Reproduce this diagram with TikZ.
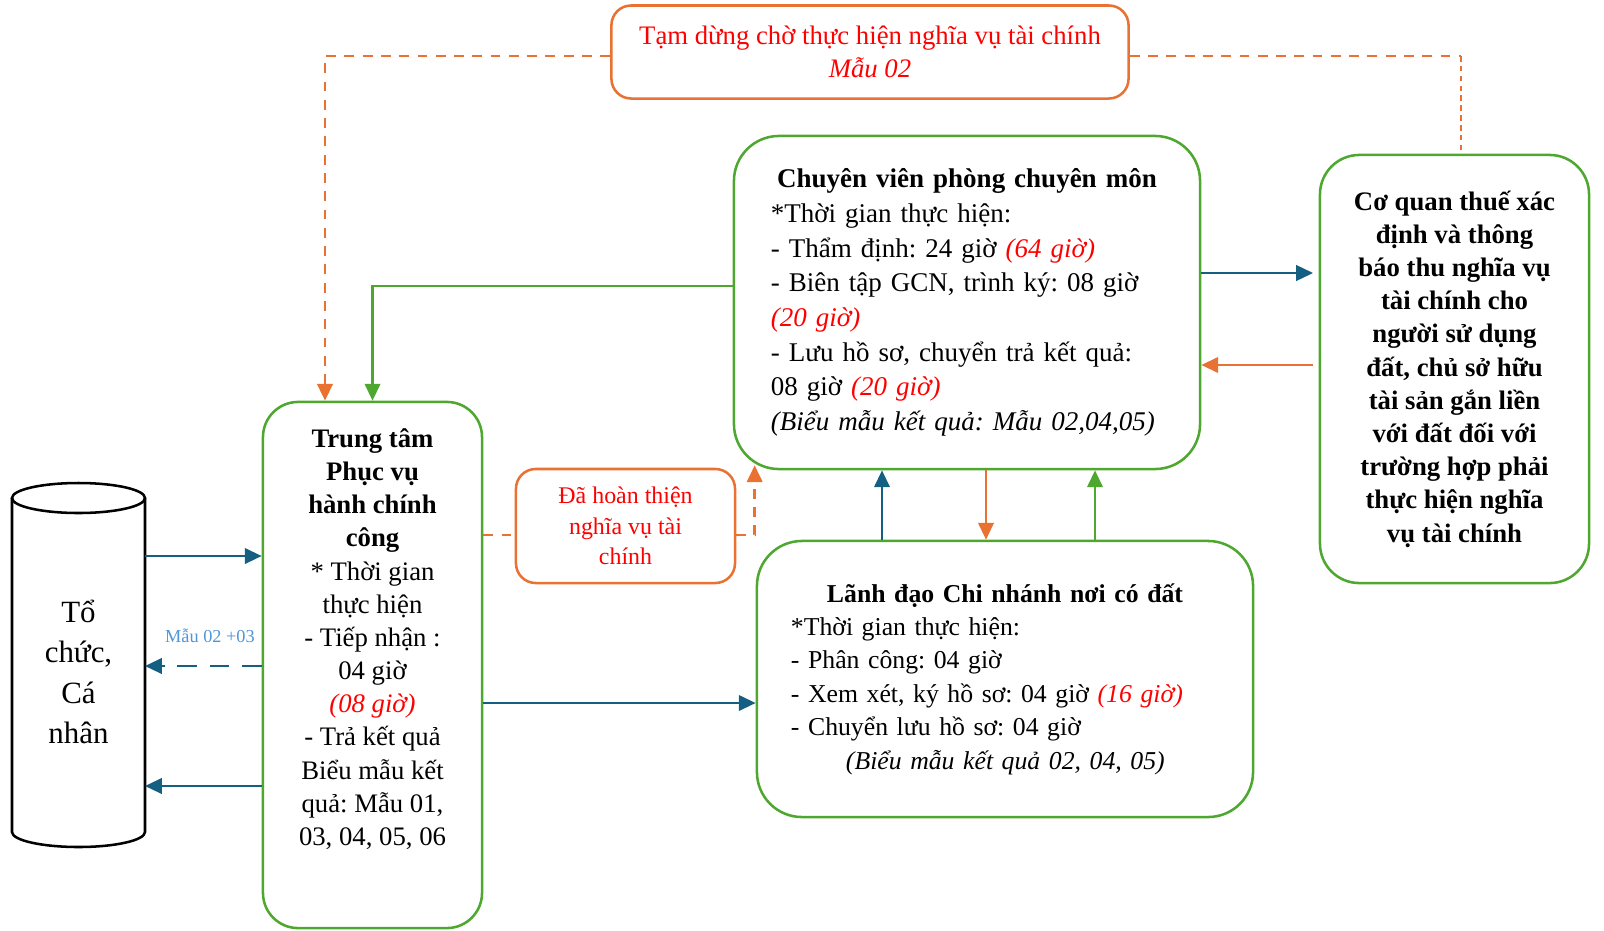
\documentclass[tikz,border=0pt]{standalone}
\usepackage{fontspec}
\setmainfont{Liberation Serif}
\usetikzlibrary{arrows.meta}
\definecolor{boxgreen}{HTML}{4EA72E}
\definecolor{arrorange}{HTML}{E97132}
\definecolor{arrblue}{HTML}{156082}
\definecolor{lblblue}{HTML}{4E95D9}
\newcommand{\redtxt}[1]{\textcolor{red}{\textit{#1}}}
\tikzset{greenbox/.style = {draw = boxgreen, line width = 1.8pt, inner sep = 0, align = center}}
\tikzset{orangebox/.style = {draw = arrorange, line width = 1.8pt, inner sep = 0, align = center}}
\tikzset{bluearr/.style = {draw = arrblue, line width = 1.7pt, -{Triangle[length = 12pt, width = 11pt]}}}
\tikzset{greenarr/.style = {draw = boxgreen, line width = 1.7pt, -{Triangle[length = 12pt, width = 11pt]}}}
\tikzset{orangearr/.style = {draw = arrorange, line width = 1.7pt, -{Triangle[length = 12pt, width = 11pt]}}}
\tikzset{orangedash/.style = {draw = arrorange, line width = 2pt, dash pattern = on 7pt off 6pt}}
\begin{document}
\frenchspacing
\begin{tikzpicture}[x = 0.025cm, y = -0.025cm]
    \useasboundingbox (0, 0) rectangle (1604, 930);
    % cylinder
    \draw [line width = 1.8pt] (12, 498) -- (12, 832)
      arc [start angle = 180, end angle = 0, x radius = 66.5, y radius = 15] -- (145, 498);
    \draw [line width = 1.8pt] (78.5, 498) ellipse [x radius = 66.5, y radius = 15];
    \coordinate (cylr) at (145, 665);
    \node [align = center, font = \fontsize{22}{28.6}\selectfont] (org) at (78.5, 672)
      {Tổ\\chức,\\Cá\\nhân};
    % boxes
    \node [orangebox, rounded corners = 14pt, minimum width = 12.925cm, minimum height = 2.325cm,
      text = red, font = \fontsize{19}{23.3}\selectfont] (tamdung) at (870, 52)
      {Tạm dừng chờ thực hiện nghĩa vụ tài chính\\\textit{Mẫu 02}};
    \node [greenbox, rounded corners = 32pt, minimum width = 11.65cm, minimum height = 8.325cm,
      align = left, text width = 9.8cm, font = \fontsize{19.2}{24.7}\selectfont] (chuyenvien) at (967, 302.5)
      {\makebox[9.8cm]{\textbf{Chuyên viên phòng chuyên môn}}\\
       {*}Thời gian thực hiện:\\
       - Thẩm định: 24 giờ \redtxt{(64 giờ)}\\
       - Biên tập GCN, trình ký: 08 giờ\\
       \redtxt{(20 giờ)}\\
       - Lưu hồ sơ, chuyển trả kết quả:\\
       08 giờ \redtxt{(20 giờ)}\\
       \textit{(Biểu mẫu kết quả: Mẫu 02,04,05)}};
    \node [greenbox, rounded corners = 28pt, minimum width = 6.725cm, minimum height = 10.7cm,
      font = \bfseries\fontsize{19}{23.6}\selectfont] (coquan) at (1454.5, 369)
      {Cơ quan thuế xác\\định và thông\\báo thu nghĩa vụ\\tài chính cho\\người sử dụng\\đất, chủ sở hữu\\
       tài sản gắn liền\\với đất đối với\\trường hợp phải\\thực hiện nghĩa\\vụ tài chính};
    \node [greenbox, rounded corners = 25pt, minimum width = 5.475cm, minimum height = 13.15cm]
      (trungtam) at (372.5, 665) {};
    \node [align = center, font = \fontsize{19}{23.6}\selectfont] (trungtamtxt) at (372.5, 639)
      {\textbf{Trung tâm}\\\textbf{Phục vụ}\\\textbf{hành chính}\\\textbf{công}\\
       {*} Thời gian\\thực hiện\\- Tiếp nhận :\\04 giờ\\\redtxt{(08 giờ)}\\
       - Trả kết quả\\Biểu mẫu kết\\quả: Mẫu 01,\\03, 04, 05, 06};
    \node [orangebox, rounded corners = 14pt, minimum width = 5.475cm, minimum height = 2.85cm,
      text = red, font = \fontsize{17}{21.5}\selectfont] (hoanthien) at (625.5, 526)
      {Đã hoàn thiện\\nghĩa vụ tài\\chính};
    \node [greenbox, rounded corners = 32pt, minimum width = 12.4cm, minimum height = 6.9cm,
      align = left, text width = 10.7cm, font = \fontsize{18.3}{23.75}\selectfont] (lanhdao) at (1005, 679)
      {\makebox[10.7cm]{\textbf{Lãnh đạo Chi nhánh nơi có đất}}\\
       {*}Thời gian thực hiện:\\
       - Phân công: 04 giờ\\
       - Xem xét, ký hồ sơ: 04 giờ \redtxt{(16 giờ)}\\
       - Chuyển lưu hồ sơ: 04 giờ\\
       \hspace*{1.375cm}\textit{(Biểu mẫu kết quả 02, 04, 05)}};
    \node [text = lblblue, font = \fontsize{13}{15}\selectfont] (mau) at (210, 636) {Mẫu 02 +03};
    % connectors
    \coordinate (cqtop) at ([xshift = 0.1625cm]coquan.north);
    \coordinate (tdleft) at ([yshift = -0.1cm]tamdung.west);
    \coordinate (tdright) at ([yshift = -0.1cm]tamdung.east);
    \coordinate (cvcorner) at ([xshift = 0.55cm, yshift = 0.125cm]chuyenvien.south west);
    \draw [orangedash, -{Triangle[length = 12pt, width = 11pt]}] (tdleft) -| ([xshift = -1.1875cm]trungtam.north);
    \draw [orangedash] (tdright) -- (tdright -| cqtop);
    \draw [draw = arrorange, line width = 0.8pt, dash pattern = on 4pt off 3pt] (tdright -| cqtop) -- (cqtop);
    \draw [greenarr] (chuyenvien.west |- 0, 286) -| (trungtam.north);
    \draw [bluearr] (cylr |- 0, 556) -- (trungtam.west |- 0, 556);
    \draw [bluearr, dash pattern = on 14pt off 9pt] (trungtam.west |- 0, 666) -- (cylr |- 0, 666);
    \draw [bluearr] (trungtam.west |- 0, 786) -- (cylr |- 0, 786);
    \draw [bluearr] (trungtam.east |- 0, 703) -- (lanhdao.west |- 0, 703);
    \draw [orangedash] (trungtam.east |- 0, 535) -- (hoanthien.west |- 0, 535);
    \draw [orangedash, -{Triangle[length = 12pt, width = 11pt]}] (hoanthien.east |- 0, 535) -| (cvcorner);
    \draw [bluearr] (lanhdao.north -| 882, 0) -- (chuyenvien.south -| 882, 0);
    \draw [orangearr] (chuyenvien.south -| 986, 0) -- (lanhdao.north -| 986, 0);
    \draw [greenarr] (lanhdao.north -| 1095, 0) -- (chuyenvien.south -| 1095, 0);
    \draw [bluearr, shorten >= 4pt] (chuyenvien.east |- 0, 273) -- (coquan.west |- 0, 273);
    \draw [orangearr, shorten <= 4pt] (coquan.west |- 0, 365) -- (chuyenvien.east |- 0, 365);
  \end{tikzpicture}
\end{document}
